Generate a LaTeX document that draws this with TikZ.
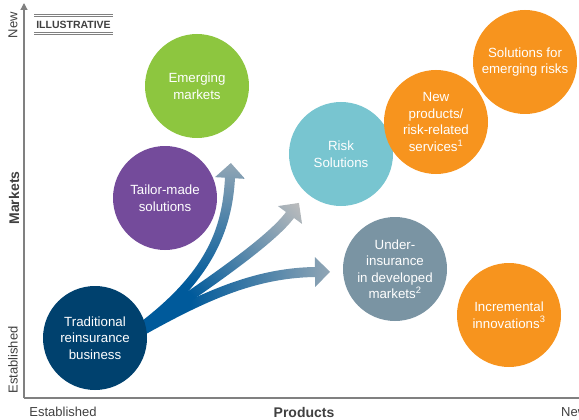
\documentclass[tikz,border=0pt]{standalone}
\usepackage{fontspec}
\setmainfont{Liberation Sans}
\usetikzlibrary{arrows.meta,calc,backgrounds}

\definecolor{navy}{HTML}{00416E}
\definecolor{plum}{HTML}{744B9B}
\definecolor{leaf}{HTML}{8DC63F}
\definecolor{aqua}{HTML}{78C5D0}
\definecolor{amber}{HTML}{F7941E}
\definecolor{slate}{HTML}{7A94A3}
\definecolor{axisgray}{HTML}{808080}
\definecolor{labelgray}{HTML}{404040}
\definecolor{arrowblue}{HTML}{005A9B}
\definecolor{arrowgray}{HTML}{BDBDBD}

% blue stem fading to grey towards the head
\pgfdeclarehorizontalshading{growth}{100bp}{color(0bp)=(arrowblue); color(42bp)=(arrowblue); color(85bp)=(arrowgray); color(100bp)=(arrowgray)}

% #1 start, #2 #3 controls, #4 head base, #5 shading angle
\newcommand{\fatarrow}[5]{%
  \shade[shading=growth,shading angle=#5]
    ($(#1)!5pt!90:(#2)$) .. controls ($(#2)!5pt!-90:(#1)$) and ($(#3)!5pt!90:(#4)$) .. ($(#4)!5pt!-90:(#3)$)
    -- ($(#4)!15pt!-90:(#3)$) -- ($(#4)!15pt!180:(#3)$) -- ($(#4)!15pt!90:(#3)$)
    -- ($(#4)!5pt!90:(#3)$) .. controls ($(#3)!5pt!-90:(#4)$) and ($(#2)!5pt!90:(#1)$) .. ($(#1)!5pt!-90:(#2)$)
    -- cycle;
}

\begin{document}
\begin{tikzpicture}[x=1pt,y=-1pt,
    bubble/.style={circle,minimum size=104pt,inner sep=0pt,text=white,align=center,
      font=\fontsize{13.3}{16.5}\selectfont},
    axisline/.style={draw=axisgray,line width=1.2pt},
    axislabel/.style={text=labelgray,font=\fontsize{13}{15}\selectfont,inner sep=0pt},
    axistitle/.style={axislabel,font=\fontsize{14}{16}\selectfont\bfseries},
    rule/.style={draw=axisgray,line width=0.8pt}]

  \useasboundingbox (0,0) rectangle (579,420);

  % axes
  \draw[axisline,-{Triangle[length=7pt,width=7pt]}] (24,398) -- (24,3);
  \draw[axisline] (24,398) -- (579,398);

  \node[axislabel,rotate=90] (mnew) at (13,25) {New};
  \node[axislabel,rotate=90] (mold) at (13,360) {Established};
  \node[axistitle,rotate=90] (markets) at (14,198) {Markets};
  \node[axislabel] (pold) at (63,412) {Established};
  \node[axistitle] (products) at (304,412) {Products};
  \node[axislabel,anchor=west] (pnew) at (561,412) {New};

  % tag
  \node[text=labelgray,font=\fontsize{10.5}{12}\selectfont\bfseries,inner sep=0pt] (tag) at (73.5,25) {ILLUSTRATIVE};
  \draw[rule] (34,14) -- (113,14) (34,16.7) -- (113,16.7);
  \draw[rule] (34,32) -- (113,32) (34,34.7) -- (113,34.7);

  % circles
  \node[bubble,fill=navy] (trad) at (95,338) {Traditional\\reinsurance\\business};
  \node[bubble,fill=plum] (tailor) at (165,198) {Tailor-made\\solutions};
  \node[bubble,fill=leaf] (emerging) at (197,86) {Emerging\\markets};
  \node[bubble,fill=aqua] (risk) at (341,154) {Risk\\Solutions};
  \node[bubble,fill=amber] (newprod) at (436,122) {New\\products/\\risk-related\\services\textsuperscript{1}};
  \node[bubble,fill=amber] (emrisks) at (525,62) {Solutions for\\emerging risks};
  \node[bubble,fill=slate] (under) at (395,269) {Under-\\insurance\\in developed\\markets\textsuperscript{2}};
  \node[bubble,fill=amber] (incr) at (509,315) {Incremental\\innovations\textsuperscript{3}};

  % growth arrows, behind the circles
  \coordinate (stem) at (120,343);
  \coordinate (upA) at (210,282);
  \coordinate (upB) at (227,230);
  \coordinate (upEnd) at (230,178);
  \coordinate (diagA) at (200,290);
  \coordinate (diagB) at (270,242);
  \coordinate (diagEnd) at (290,215);
  \coordinate (flatA) at (195,300);
  \coordinate (flatB) at (250,273);
  \coordinate (flatEnd) at (315,272);
  \begin{scope}[on background layer]
    \fatarrow{stem}{flatA}{flatB}{flatEnd}{0}
    \fatarrow{stem}{diagA}{diagB}{diagEnd}{42}
    \fatarrow{stem}{upA}{upB}{upEnd}{90}
  \end{scope}
\end{tikzpicture}
\end{document}
